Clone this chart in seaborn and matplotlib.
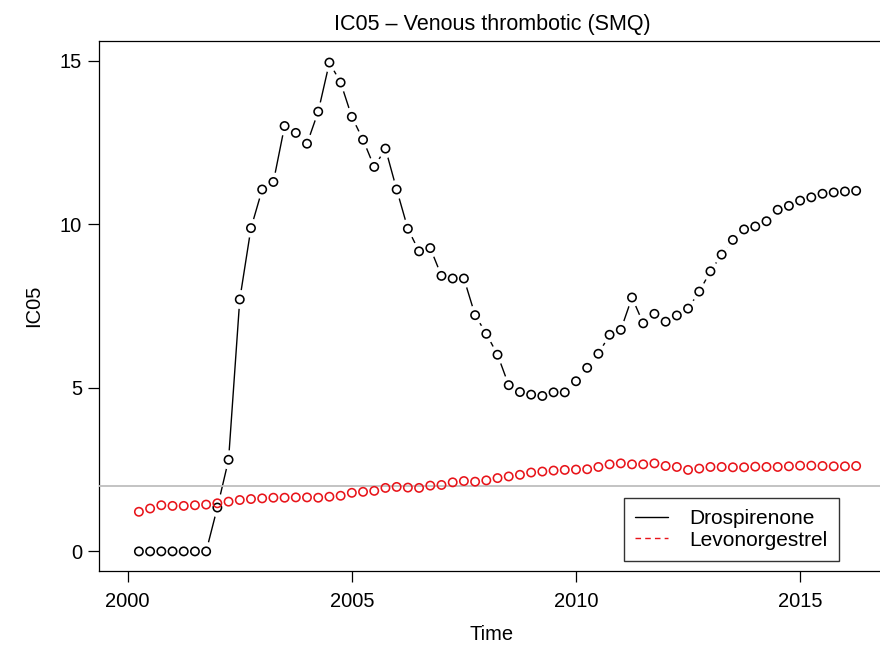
import numpy as np
import pandas as pd
import matplotlib
matplotlib.use('Agg')
import matplotlib.pyplot as plt
from matplotlib.lines import Line2D
import seaborn as sns

# quarterly time points, 2000 Q2 .. 2016 Q2
time = np.arange(2000.25, 2016.26, 0.25)

drospirenone = [0, 0, 0, 0, 0, 0, 0, 1.34, 2.80, 7.70,
                9.88, 11.06, 11.29, 13.00, 12.79, 12.46, 13.44, 14.94, 14.33, 13.28,
                12.58, 11.75, 12.31, 11.06, 9.86, 9.17, 9.27, 8.42, 8.34, 8.34,
                7.22, 6.65, 6.01, 5.08, 4.87, 4.79, 4.75, 4.86, 4.86, 5.20,
                5.61, 6.04, 6.62, 6.77, 7.76, 6.97, 7.26, 7.02, 7.21, 7.42,
                7.94, 8.56, 9.07, 9.52, 9.84, 9.93, 10.09, 10.44, 10.56, 10.72,
                10.82, 10.93, 10.97, 11.00, 11.02]

levonorgestrel = [1.21, 1.31, 1.41, 1.39, 1.39, 1.41, 1.43, 1.47, 1.52, 1.57,
                  1.60, 1.62, 1.64, 1.64, 1.65, 1.65, 1.64, 1.67, 1.70, 1.79,
                  1.82, 1.85, 1.94, 1.97, 1.95, 1.94, 2.01, 2.03, 2.11, 2.15,
                  2.13, 2.17, 2.24, 2.29, 2.34, 2.41, 2.44, 2.47, 2.49, 2.50,
                  2.51, 2.58, 2.66, 2.69, 2.66, 2.66, 2.69, 2.61, 2.58, 2.49,
                  2.53, 2.58, 2.58, 2.57, 2.57, 2.59, 2.58, 2.58, 2.60, 2.62,
                  2.62, 2.61, 2.60, 2.60, 2.61]

threshold = 2

df = pd.concat([
    pd.DataFrame({'Time': time, 'IC05': drospirenone, 'drug': 'Drospirenone'}),
    pd.DataFrame({'Time': time, 'IC05': levonorgestrel, 'drug': 'Levonorgestrel'}),
])
red = '#e8141a'
palette = {'Drospirenone': 'black', 'Levonorgestrel': red}

sns.set_style('ticks')
plt.rcParams['font.family'] = ['Liberation Sans', 'DejaVu Sans']
plt.rcParams['text.color'] = 'black'
plt.rcParams['axes.labelcolor'] = 'black'
plt.rcParams['xtick.color'] = 'black'
plt.rcParams['ytick.color'] = 'black'

fig = plt.figure(figsize=(8.8, 6.48), dpi=100)
ax = fig.add_axes([0.112, 0.1188, 0.894, 0.818])

# R type="b": lines broken around the points
sns.lineplot(data=df, x='Time', y='IC05', hue='drug', style='drug', palette=palette,
             dashes={'Drospirenone': '', 'Levonorgestrel': (4, 3)},
             lw=1.0, legend=False, ax=ax, zorder=2)
ax.scatter(df['Time'], df['IC05'], s=185, c='white', edgecolors='none', zorder=3)
ax.axhline(threshold, color='#bebebe', lw=1.3, zorder=3.5)
sns.scatterplot(data=df, x='Time', y='IC05', hue='drug', palette=palette, marker='o',
                s=36, linewidth=1.15, legend=False, ax=ax, zorder=4)
ax.collections[-1].set_facecolor('none')
ax.collections[-1].set_edgecolor([palette[d] for d in df['drug']])

ax.set_xlim(1999.35, 2016.9)
ax.set_ylim(-0.6, 15.6)
ax.set_xticks([2000, 2005, 2010, 2015])
ax.set_yticks([0, 5, 10, 15])
ax.tick_params(axis='both', direction='out', length=8, width=0.9, labelsize=14.5)
ax.tick_params(axis='x', pad=7)
ax.tick_params(axis='y', pad=4)
for sp in ax.spines.values():
    sp.set_visible(True)
    sp.set_color('black')
    sp.set_linewidth(0.9)

ax.set_xlabel('Time', fontsize=14.5, labelpad=10)
ax.set_ylabel('IC05', fontsize=14.5, labelpad=12)
ax.set_title('IC05 – Venous thrombotic (SMQ)', fontsize=15.5, pad=8)

handles = [Line2D([], [], color='black', lw=1),
           Line2D([], [], color=red, lw=1, ls=(0, (4, 3)))]
leg = fig.legend(handles, ['Drospirenone', 'Levonorgestrel'], loc='lower right',
                 bbox_to_anchor=(839 / 880, 87 / 648), bbox_transform=fig.transFigure,
                 fontsize=15, frameon=True, fancybox=False, edgecolor='black',
                 handlelength=1.6, handletextpad=1.0, labelspacing=0.1,
                 borderpad=0.55, borderaxespad=0)
leg.get_frame().set_linewidth(1)

plt.savefig('out.png', dpi=100)
